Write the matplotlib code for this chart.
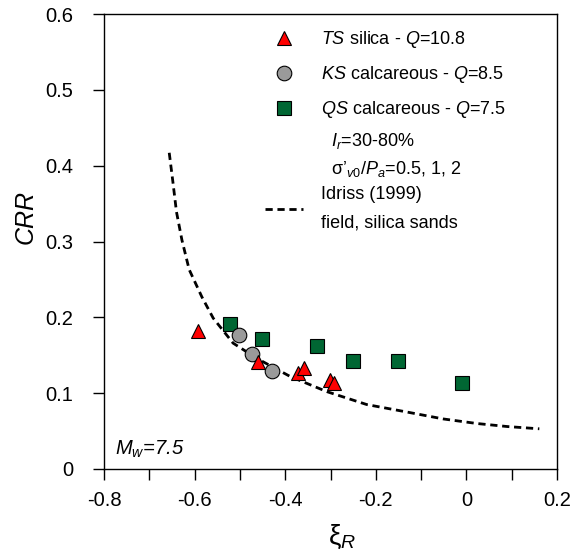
import matplotlib
matplotlib.use("Agg")
import matplotlib.pyplot as plt
from matplotlib.lines import Line2D
from matplotlib.ticker import MultipleLocator, FixedFormatter, FixedLocator

plt.rcParams['font.family'] = ['Liberation Sans', 'DejaVu Sans']
plt.rcParams['mathtext.fontset'] = 'custom'
plt.rcParams['mathtext.rm'] = 'Liberation Sans'
plt.rcParams['mathtext.it'] = 'Liberation Sans:italic'
plt.rcParams['mathtext.bf'] = 'Liberation Sans:bold'
plt.rcParams['axes.unicode_minus'] = False

# TS silica sand (Q = 10.8)
ts_xi = [-0.592, -0.459, -0.371, -0.358, -0.301, -0.292]
ts_crr = [0.182, 0.141, 0.127, 0.133, 0.118, 0.113]

# KS calcareous sand (Q = 8.5)
ks_xi = [-0.503, -0.473, -0.430]
ks_crr = [0.177, 0.152, 0.129]

# QS calcareous sand (Q = 7.5)
qs_xi = [-0.522, -0.452, -0.330, -0.251, -0.150, -0.010]
qs_crr = [0.191, 0.171, 0.162, 0.143, 0.143, 0.114]

# Idriss (1999) field curve for silica sands
idriss_xi = [-0.656, -0.648, -0.640, -0.628, -0.612, -0.584, -0.559, -0.515,
             -0.463, -0.389, -0.308, -0.220, -0.139, -0.051, 0.023, 0.090, 0.161]
idriss_crr = [0.417, 0.379, 0.339, 0.302, 0.263, 0.227, 0.199, 0.166,
              0.146, 0.122, 0.102, 0.085, 0.076, 0.066, 0.060, 0.056, 0.053]

x_ticks = [-0.8, -0.6, -0.4, -0.2, 0, 0.2]
x_tick_labels = ['-0.8', '-0.6', '-0.4', '-0.2', '0', '0.2']
y_ticks = [0, 0.1, 0.2, 0.3, 0.4, 0.5, 0.6]
y_tick_labels = ['0', '0.1', '0.2', '0.3', '0.4', '0.5', '0.6']

W, H, DPI = 575, 557, 100
fig = plt.figure(figsize=(W / DPI, H / DPI), dpi=DPI)
left, right, top, bottom = 104, 557, 14, 469
ax = fig.add_axes([left / W, 1 - bottom / H, (right - left) / W, (bottom - top) / H])

red, grey, green = '#ff0000', '#9a9a9a', '#006633'
edge = dict(markeredgecolor='black', markeredgewidth=0.8, linestyle='none')

idriss, = ax.plot(idriss_xi, idriss_crr, color='black', lw=2.0,
                  linestyle=(0, (2.6, 1.7)), zorder=2)
qs, = ax.plot(qs_xi, qs_crr, marker='s', ms=10.5, markerfacecolor=green, zorder=3, **edge)
ks, = ax.plot(ks_xi, ks_crr, marker='o', ms=10.5, markerfacecolor=grey, zorder=4, **edge)
ts, = ax.plot(ts_xi, ts_crr, marker='^', ms=10.5, markerfacecolor=red, zorder=5, **edge)

ax.set_xlim(-0.8, 0.2)
ax.set_ylim(0, 0.6)
ax.xaxis.set_major_locator(FixedLocator(x_ticks))
ax.xaxis.set_major_formatter(FixedFormatter(x_tick_labels))
ax.xaxis.set_minor_locator(MultipleLocator(0.1))
ax.yaxis.set_major_locator(FixedLocator(y_ticks))
ax.yaxis.set_major_formatter(FixedFormatter(y_tick_labels))

ax.tick_params(axis='both', which='both', direction='out', length=8, width=1.0,
               top=False, right=False, labelsize=14.5)
ax.tick_params(axis='y', pad=14)
ax.tick_params(axis='x', pad=8)
for s in ax.spines.values():
    s.set_linewidth(1.0)

ax.set_ylabel('CRR', fontsize=18, fontstyle='italic', va='center')
ax.yaxis.set_label_coords(-0.173, 0.554)
ax.set_xlabel(r'$\mathrm{ξ}_R$', fontsize=20, va='center')
ax.xaxis.set_label_coords(0.525, -0.149)

ax.text(0.024, 0.031, r'$M_w$=7.5', transform=ax.transAxes, fontsize=14.5,
        fontstyle='italic', ha='left', va='baseline')

common = dict(frameon=False, fontsize=13, handlelength=2.1, handletextpad=1.0,
              borderpad=0, borderaxespad=0, loc='upper left')
leg1 = ax.legend([ts, ks, qs],
                 [r'$TS$ silica - $Q$=10.8',
                  r'$KS$ calcareous - $Q$=8.5',
                  r'$QS$ calcareous - $Q$=7.5'],
                 bbox_to_anchor=(0.355, 0.967), labelspacing=0.78, **common)
ax.add_artist(leg1)

blank = Line2D([], [], linestyle='none')
leg2 = ax.legend([blank, blank, idriss],
                 [r'  $I_r$=30-80%',
                  r'  $\mathrm{σ}’_{v0}$/$P_a$=0.5, 1, 2',
                  'Idriss (1999)\nfield, silica sands'],
                 bbox_to_anchor=(0.355, 0.742), labelspacing=0.4, **common)
leg2.get_texts()[2].set_linespacing(1.9)

fig.savefig('out.png', dpi=DPI)
